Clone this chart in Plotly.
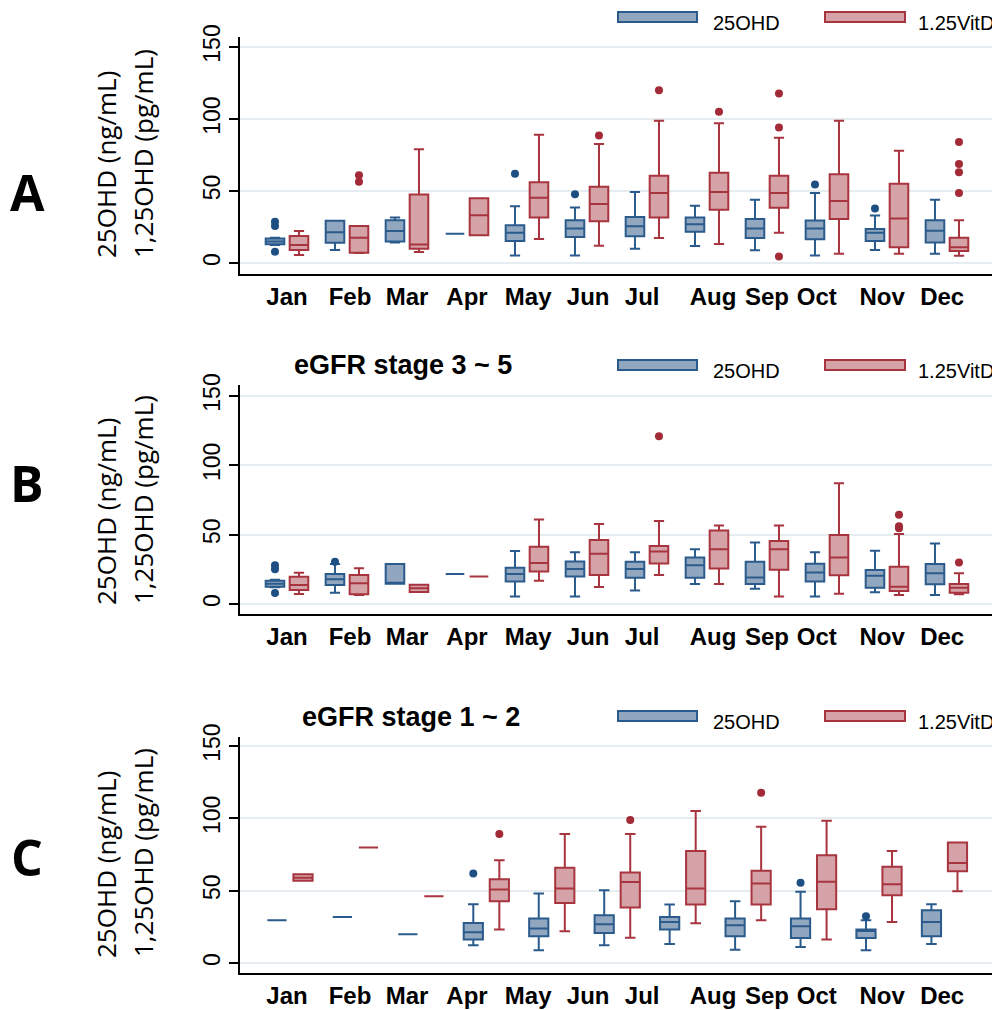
import plotly.graph_objects as go

# The page body has an 8px margin, so the figure is drawn 8px in and reduced to fit.
OFF = 8
W, H = 1000 - OFF, 1010 - OFF


def px(x):
    return (x - OFF) / W


def py(y):
    return 1 - (y - OFF) / H


MONTHS = ["Jan", "Feb", "Mar", "Apr", "May", "Jun", "Jul", "Aug", "Sep", "Oct", "Nov", "Dec"]
TICK_POS = [0, 1.05, 2.0, 3.0, 4.02, 5.02, 5.92, 7.1, 8.0, 8.83, 9.92, 10.92]

# ---------------- Panel A (all) ----------------
A_OHD_LO = [12.5, 9.0, 14.2, 20.4, 5.3, 5.3, 10.0, 11.8, 8.8, 5.3, 9.0, 6.5]
A_OHD_Q1 = [13.0, 14.1, 15.0, 20.4, 15.3, 18.0, 18.6, 21.8, 17.4, 16.5, 15.3, 14.2]
A_OHD_MED = [15.0, 21.3, 22.3, 20.4, 21.0, 24.0, 25.5, 27.0, 24.0, 24.0, 21.0, 22.5]
A_OHD_Q3 = [17.0, 29.4, 29.7, 20.4, 26.2, 29.7, 32.0, 31.6, 30.6, 29.5, 23.7, 29.7]
A_OHD_HI = [17.5, 29.4, 31.6, 20.4, 39.4, 38.5, 49.4, 39.7, 44.0, 48.7, 33.0, 44.0]
A_OHD_OUT_G = [0, 0, 0, 4, 5, 9, 10]
A_OHD_OUT_V = [7.8, 25.7, 28.7, 62.0, 47.8, 54.5, 37.8]

A_VD_LO = [5.6, 7.0, 7.7, 19.3, 16.7, 12.0, 17.4, 13.2, 21.0, 6.5, 6.5, 5.0]
A_VD_Q1 = [9.0, 7.2, 10.0, 19.3, 31.6, 29.0, 31.6, 37.0, 38.3, 30.6, 10.9, 8.4]
A_VD_MED = [12.5, 17.6, 12.8, 33.2, 45.3, 41.0, 48.7, 49.4, 48.7, 43.0, 30.9, 10.9]
A_VD_Q3 = [18.7, 25.7, 47.6, 45.0, 56.0, 53.0, 60.6, 62.6, 60.6, 61.7, 55.0, 17.6]
A_VD_HI = [22.2, 25.7, 79.0, 45.0, 89.0, 82.6, 98.8, 97.0, 87.0, 98.8, 78.0, 29.7]
A_VD_OUT_G = [1, 1, 5, 6, 7, 8, 8, 8, 11, 11, 11, 11]
A_VD_OUT_V = [56.5, 61.0, 88.6, 120.0, 105.0, 117.6, 94.0, 4.6, 84.0, 68.7, 63.0, 48.7]

# ---------------- Panel B (eGFR stage 3 ~ 5) ----------------
B_OHD_LO = [12.0, 8.2, 14.6, 21.6, 5.5, 5.5, 9.8, 14.4, 11.0, 5.5, 8.4, 6.5]
B_OHD_Q1 = [12.5, 13.7, 14.6, 21.6, 16.3, 19.9, 19.0, 19.0, 14.4, 16.3, 11.8, 14.2]
B_OHD_MED = [14.6, 17.8, 15.0, 21.6, 21.6, 25.2, 25.2, 28.0, 19.2, 22.8, 20.4, 22.1]
B_OHD_Q3 = [16.8, 21.6, 28.8, 21.6, 26.1, 30.7, 30.4, 33.5, 30.4, 29.0, 24.5, 28.8]
B_OHD_HI = [17.5, 28.8, 28.8, 21.6, 38.3, 37.4, 37.4, 39.5, 44.3, 37.4, 38.4, 43.7]
B_OHD_OUT_G = [0, 0, 0, 1]
B_OHD_OUT_V = [8.0, 25.0, 28.0, 30.5]

B_VD_LO = [7.2, 6.5, 8.6, 19.9, 16.8, 12.2, 21.0, 14.4, 5.5, 7.4, 6.5, 7.0]
B_VD_Q1 = [10.1, 7.0, 8.6, 19.9, 23.5, 21.0, 29.2, 25.6, 24.7, 20.8, 9.4, 8.2]
B_VD_MED = [13.7, 14.9, 11.3, 19.9, 29.5, 36.2, 37.9, 39.5, 39.5, 33.5, 12.5, 11.8]
B_VD_Q3 = [19.7, 20.9, 13.9, 19.9, 41.2, 46.2, 41.9, 53.0, 45.5, 49.8, 26.9, 14.4]
B_VD_HI = [22.6, 25.7, 13.9, 19.9, 61.0, 57.7, 59.9, 56.6, 56.6, 87.0, 50.5, 22.1]
B_VD_OUT_G = [6, 10, 10, 10, 11]
B_VD_OUT_V = [121.0, 54.6, 56.0, 64.4, 30.0]

# ---------------- Panel C (eGFR stage 1 ~ 2), 11 groups ----------------
C_OHD_LO = [29.5, 31.8, 19.8, 12.2, 8.8, 12.2, 13.2, 9.2, 11.1, 8.8, 13.2]
C_OHD_Q1 = [29.5, 31.8, 19.8, 16.2, 18.5, 20.8, 23.1, 18.5, 17.3, 17.3, 18.5]
C_OHD_MED = [29.5, 31.8, 19.8, 21.2, 23.8, 26.8, 28.4, 26.1, 25.4, 22.2, 28.4]
C_OHD_Q3 = [29.5, 31.8, 19.8, 27.7, 30.7, 33.0, 31.8, 30.7, 30.7, 23.1, 36.5]
C_OHD_HI = [29.5, 31.8, 19.8, 40.6, 48.0, 50.3, 40.4, 42.7, 49.2, 29.5, 40.6]
C_OHD_OUT_G = [3, 8, 9]
C_OHD_OUT_V = [61.9, 55.4, 32.3]

C_VD_LO = [56.8, 79.9, 46.2, 23.1, 21.9, 17.5, 27.5, 29.5, 16.2, 28.4, 49.6]
C_VD_Q1 = [56.8, 79.9, 46.2, 42.7, 41.5, 38.3, 40.4, 40.4, 37.2, 46.9, 63.5]
C_VD_MED = [59.0, 79.9, 46.2, 50.8, 51.5, 56.0, 51.5, 54.9, 56.1, 54.5, 69.2]
C_VD_Q3 = [61.4, 79.9, 46.2, 57.9, 65.8, 62.5, 77.5, 63.7, 74.5, 66.5, 83.3]
C_VD_HI = [61.4, 79.9, 46.2, 71.1, 89.1, 89.1, 105.0, 94.2, 98.3, 77.5, 83.3]
C_VD_OUT_G = [3, 5, 7]
C_VD_OUT_V = [89.1, 98.8, 117.7]

SERIES = ["25OHD", "1.25VitD"]

# ---------------- styling ----------------
BLUE_LINE, BLUE_FILL, BLUE_DOT = "#2A5B8C", "#91A6BF", "#1E4F82"
RED_LINE, RED_FILL, RED_DOT = "#A8343F", "#D5A3A7", "#A32A37"
GRID = "#E6EDF1"
TICK_FONT = "Liberation Sans"
LABEL_FONT = "Open Sans"

AB_POS = list(range(12))
C_POS = [0.05 + k * 1.0908 for k in range(11)]

panels = [
    dict(pos=AB_POS, off=0.2, bw=0.31,
         blue=(A_OHD_LO, A_OHD_Q1, A_OHD_MED, A_OHD_Q3, A_OHD_HI, A_OHD_OUT_G, A_OHD_OUT_V),
         red=(A_VD_LO, A_VD_Q1, A_VD_MED, A_VD_Q3, A_VD_HI, A_VD_OUT_G, A_VD_OUT_V),
         dom=(37, 274), yr=(-7.6, 156.9), xr=(-0.783, 11.767),
         title=None, letter="A", letter_y=192, ytitle_y=(165, 154), legend_y=17),
    dict(pos=AB_POS, off=0.2, bw=0.31,
         blue=(B_OHD_LO, B_OHD_Q1, B_OHD_MED, B_OHD_Q3, B_OHD_HI, B_OHD_OUT_G, B_OHD_OUT_V),
         red=(B_VD_LO, B_VD_Q1, B_VD_MED, B_VD_Q3, B_VD_HI, B_VD_OUT_G, B_VD_OUT_V),
         dom=(385, 614), yr=(-7.2, 157.9), xr=(-0.783, 11.767),
         title=("eGFR stage 3 ~ 5", 403, 365), letter="B", letter_y=483, ytitle_y=(512, 500), legend_y=365),
    dict(pos=C_POS, off=0.217, bw=0.32,
         blue=(C_OHD_LO, C_OHD_Q1, C_OHD_MED, C_OHD_Q3, C_OHD_HI, C_OHD_OUT_G, C_OHD_OUT_V),
         red=(C_VD_LO, C_VD_Q1, C_VD_MED, C_VD_Q3, C_VD_HI, C_VD_OUT_G, C_VD_OUT_V),
         dom=(737, 973), yr=(-6.9, 156.2), xr=(-0.783, 11.767),
         title=("eGFR stage 1 ~ 2", 411, 717), letter="C", letter_y=857, ytitle_y=(865, 853), legend_y=716),
]

fig = go.Figure()
shapes = []
annotations = []
layout = {}

for i, p in enumerate(panels):
    sfx = "" if i == 0 else str(i + 1)
    xa, ya = "x" + sfx, "y" + sfx
    for s, (stats, sign, lc, fc, dc) in enumerate([
        (p["blue"], -1, BLUE_LINE, BLUE_FILL, BLUE_DOT),
        (p["red"], 1, RED_LINE, RED_FILL, RED_DOT),
    ]):
        lo, q1, med, q3, hi, og, ov = stats
        xs = [p["pos"][g] + sign * p["off"] for g in range(len(med))]
        fig.add_trace(go.Box(
            x=xs, q1=q1, median=med, q3=q3, lowerfence=lo, upperfence=hi,
            width=p["bw"], whiskerwidth=0.55, fillcolor=fc,
            line=dict(color=lc, width=2), name=SERIES[s], showlegend=False,
            boxpoints=False, hoverinfo="skip", xaxis=xa, yaxis=ya))
        fig.add_trace(go.Scatter(
            x=[p["pos"][g] + sign * p["off"] for g in og], y=ov, mode="markers",
            marker=dict(color=dc, size=8, line=dict(width=0)),
            showlegend=False, hoverinfo="skip", xaxis=xa, yaxis=ya))

    y0, y1 = p["dom"]
    layout["xaxis" + sfx] = dict(
        domain=[px(240), px(993)], range=list(p["xr"]), anchor=ya, automargin=False,
        showline=True, linecolor="black", linewidth=2, ticks="",
        tickvals=TICK_POS, ticktext=MONTHS, showgrid=False, zeroline=False,
        tickfont=dict(family=TICK_FONT, size=24, color="black", weight="bold"),
        ticklabelstandoff=0)
    layout["yaxis" + sfx] = dict(
        domain=[py(y1), py(y0)], range=list(p["yr"]), anchor=xa, automargin=False,
        tickvals=[0, 50, 100, 150], tickangle=-90, ticks="outside", ticklen=9,
        tickwidth=2, tickcolor="black", showline=True, linecolor="black", linewidth=2,
        showgrid=True, gridcolor=GRID, gridwidth=2, zeroline=False,
        tickfont=dict(family=TICK_FONT, size=23, color="black"))

    # panel letter
    annotations.append(dict(x=px(27), y=py(p["letter_y"]), xref="paper", yref="paper",
                            text=p["letter"], showarrow=False, xanchor="center", yanchor="middle",
                            font=dict(family=LABEL_FONT, size=50, color="black", weight="bold")))
    # y titles
    annotations.append(dict(x=px(106), y=py(p["ytitle_y"][0]), xref="paper", yref="paper",
                            text="25OHD (ng/mL)", textangle=-90, showarrow=False,
                            xanchor="center", yanchor="middle",
                            font=dict(family=LABEL_FONT, size=26, color="black")))
    annotations.append(dict(x=px(143), y=py(p["ytitle_y"][1]), xref="paper", yref="paper",
                            text="1,25OHD (pg/mL)", textangle=-90, showarrow=False,
                            xanchor="center", yanchor="middle",
                            font=dict(family=LABEL_FONT, size=26, color="black")))
    # panel title
    if p["title"]:
        t, tx, ty = p["title"]
        annotations.append(dict(x=px(tx), y=py(ty), xref="paper", yref="paper", text=t,
                                showarrow=False, xanchor="center", yanchor="middle",
                                font=dict(family=TICK_FONT, size=27, color="black", weight="bold")))
    # legend
    ly = p["legend_y"]
    for (sx0, sx1, tx0, lc, fc, name) in [
        (618, 697, 711, BLUE_LINE, BLUE_FILL, SERIES[0]),
        (825, 905, 916, RED_LINE, RED_FILL, SERIES[1]),
    ]:
        shapes.append(dict(type="rect", xref="paper", yref="paper",
                           x0=px(sx0), x1=px(sx1), y0=py(ly + 5), y1=py(ly - 5),
                           fillcolor=fc, line=dict(color=lc, width=2)))
        annotations.append(dict(x=px(tx0), y=py(ly + 6), xref="paper", yref="paper",
                                text=name, showarrow=False, xanchor="left", yanchor="middle",
                                font=dict(family=TICK_FONT, size=20, color="black")))

fig.update_layout(
    width=W, height=H, margin=dict(l=0, r=0, t=0, b=0),
    paper_bgcolor="white", plot_bgcolor="white", boxmode="overlay",
    shapes=shapes, annotations=annotations, showlegend=False, **layout)

fig.write_html("out.html")
